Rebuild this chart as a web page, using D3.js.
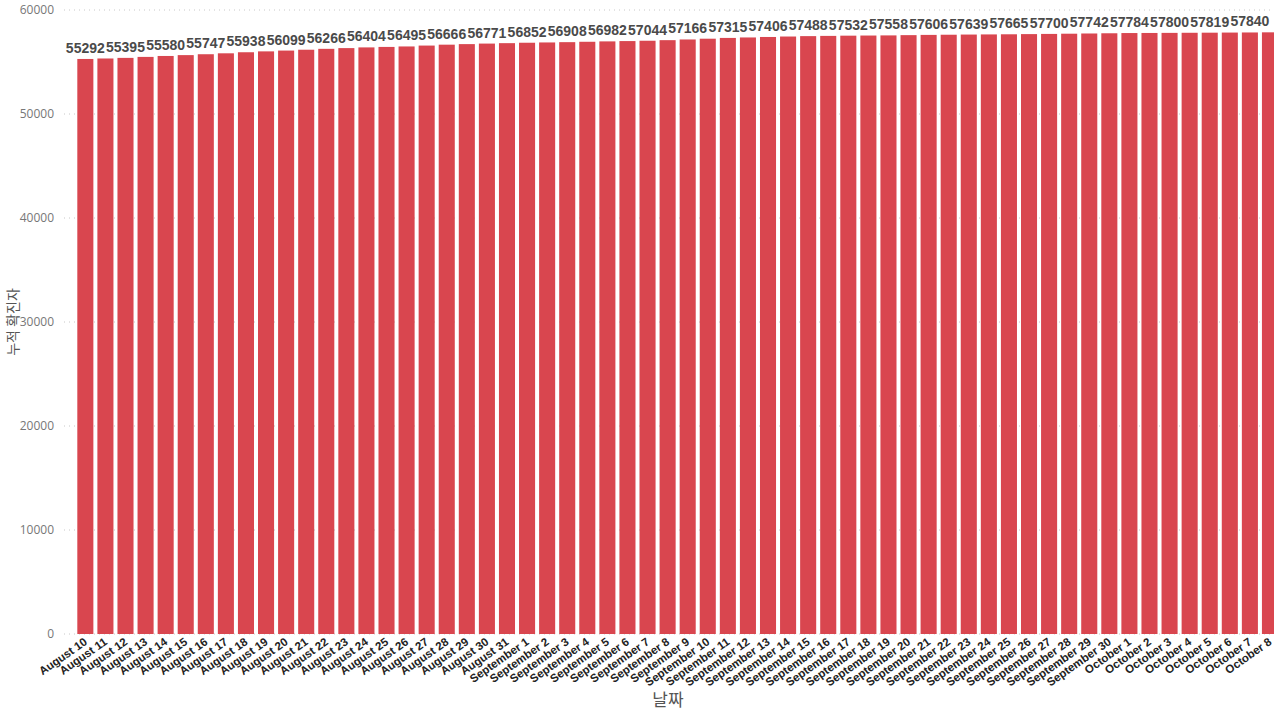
<!DOCTYPE html>
<html><head><meta charset="utf-8">
<script src="https://cdn.jsdelivr.net/npm/d3@7"></script>
<style>
html,body{margin:0;padding:0;background:#fff;overflow:hidden;}
svg{display:block;}
</style></head>
<body>
<script>
const dates = [
 "August 10","August 11","August 12","August 13","August 14","August 15","August 16","August 17","August 18","August 19","August 20",
 "August 21","August 22","August 23","August 24","August 25","August 26","August 27","August 28","August 29","August 30","August 31",
 "September 1","September 2","September 3","September 4","September 5","September 6","September 7","September 8","September 9","September 10",
 "September 11","September 12","September 13","September 14","September 15","September 16","September 17","September 18","September 19","September 20",
 "September 21","September 22","September 23","September 24","September 25","September 26","September 27","September 28","September 29","September 30",
 "October 1","October 2","October 3","October 4","October 5","October 6","October 7","October 8"
];
const cumulative = [
 55292,55338,55395,55490,55580,55662,55747,55836,55938,56022,
 56099,56180,56266,56336,56404,56450,56495,56580,56666,56720,
 56771,56812,56852,56880,56908,56945,56982,57012,57044,57100,
 57166,57240,57315,57360,57406,57450,57488,57510,57532,57545,
 57558,57583,57606,57622,57639,57652,57665,57682,57700,57721,
 57742,57763,57784,57792,57800,57810,57819,57830,57840,57853
];
const yTicks = [0,10000,20000,30000,40000,50000,60000];
const xTitle = "날짜";
const yTitle = "누적 확진자";

const W = 1274, H = 711;
const svg = d3.select("body").append("svg").attr("width", W).attr("height", H);

const x = d3.scaleBand().domain(dates).range([75.3, 1280]).paddingInner(0.2).paddingOuter(0.1);
const y = d3.scaleLinear().domain([0,60000]).range([634,10]);

// gridlines
svg.append("g").selectAll("line").data(yTicks).join("line")
  .attr("x1", 64).attr("x2", W).attr("y1", d=>y(d)).attr("y2", d=>y(d))
  .attr("stroke", "#c8c8c8").attr("stroke-width", 1).attr("stroke-dasharray", "1,4");

// y axis labels
const yAxis = d3.axisLeft(y).tickValues(yTicks).tickSize(0).tickPadding(0).tickFormat(d3.format("d"));
const gy = svg.append("g").attr("transform","translate(54,0)").call(yAxis);
gy.select(".domain").remove();
gy.selectAll("text").attr("fill","#777").attr("font-size","12px").attr("font-family","'Open Sans', 'Liberation Sans', Arial, sans-serif");

// bars
svg.append("g").selectAll("rect").data(cumulative).join("rect")
  .attr("x", (d,i)=>x(dates[i])).attr("width", x.bandwidth())
  .attr("y", d=>y(d)).attr("height", d=>y(0)-y(d))
  .attr("fill", "#d9464f");

// data labels (every other bar)
svg.append("g").selectAll("text").data(cumulative.map((v,i)=>({v,i})).filter(d=>d.i%2===0)).join("text")
  .attr("x", d=>x(dates[d.i]) + x.bandwidth()/2)
  .attr("y", d=>y(d.v) - 6)
  .attr("text-anchor","middle")
  .attr("font-family","'Liberation Sans', Arial, sans-serif")
  .attr("font-weight","bold").attr("font-size","14px").attr("fill","#4a4a4a")
  .text(d=>d.v);

// x axis labels
const xAxis = d3.axisBottom(x).tickSize(0).tickPadding(0);
const gx = svg.append("g").attr("transform","translate(0,637)").call(xAxis);
gx.select(".domain").remove();
gx.selectAll("text")
  .attr("font-family","'Liberation Sans', Arial, sans-serif")
  .attr("font-weight","bold").attr("font-size","11.5px").attr("fill","#222")
  .attr("text-anchor","end").attr("dy","0.7em")
  .attr("transform","translate(-2,0) rotate(-35)");

// axis titles
svg.append("text").attr("x", 668).attr("y", 706).attr("text-anchor","middle")
  .attr("font-family","'Noto Sans CJK KR', sans-serif").attr("font-size","17px").attr("fill","#555")
  .text(xTitle);
svg.append("text").attr("transform","translate(18,322) rotate(-90)").attr("text-anchor","middle")
  .attr("font-family","'Noto Sans CJK KR', sans-serif").attr("font-size","14px").attr("fill","#555")
  .text(yTitle);
</script>
</body></html>
